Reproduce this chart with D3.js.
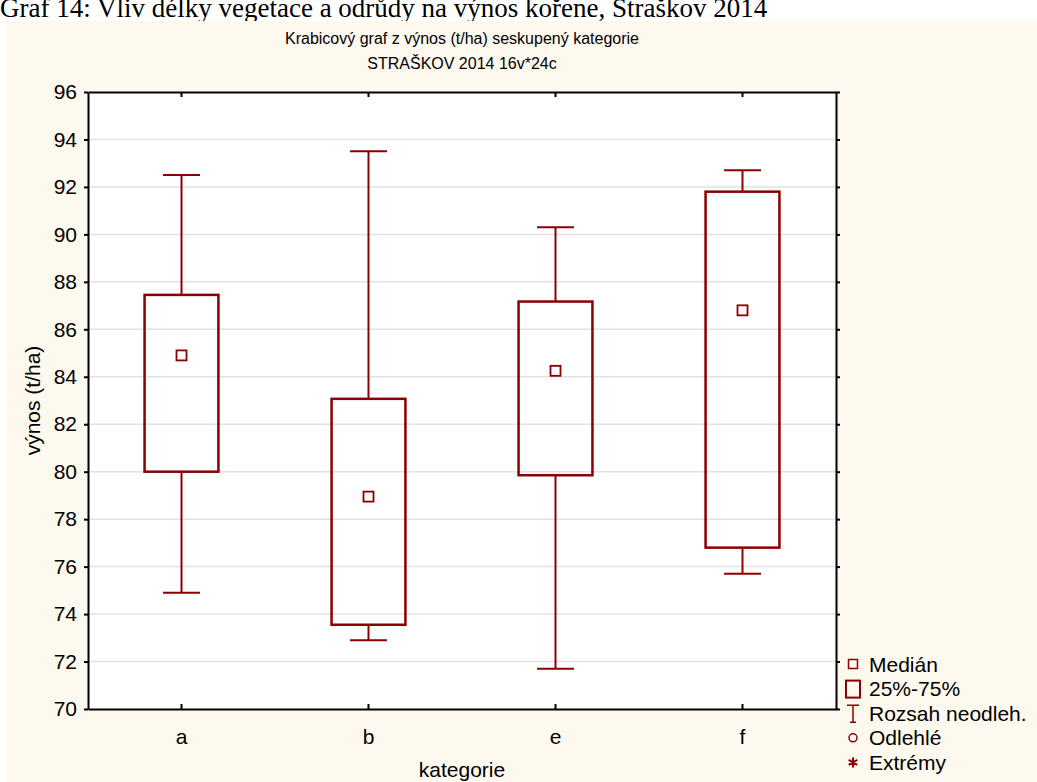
<!DOCTYPE html>
<html><head><meta charset="utf-8">
<script src="https://cdn.jsdelivr.net/npm/d3@7"></script>
<style>
html,body{margin:0;padding:0;background:#fff;}
svg{display:block;}
text{font-family:"Liberation Sans",Arial,sans-serif;fill:#000;}
</style></head>
<body>
<svg id="chart" width="1037" height="782"></svg>
<script>
const categories = ["a","b","e","f"];
const whiskerLow  = [74.9, 72.9, 71.7, 75.7];
const q1          = [80.0, 73.55, 79.85, 76.8];
const median      = [84.9, 78.95, 84.25, 86.8];
const q3          = [87.45, 83.07, 87.17, 91.8];
const whiskerHigh = [92.5, 93.5, 90.3, 92.7];
const yTicks = [70,72,74,76,78,80,82,84,86,88,90,92,94,96];
const legendLabels = ["Medián","25%-75%","Rozsah neodleh.","Odlehlé","Extrémy"];
const caption = "Graf 14: Vliv délky vegetace a odrůdy na výnos kořene, Straškov 2014";
const titleLines = ["Krabicový graf z výnos (t/ha) seskupený kategorie","STRAŠKOV 2014 16v*24c"];

const svg = d3.select("#chart");
const red = "#8b0000";
const L=88, R=836, T=92, B=709;
const FS = "21px";

// caption (cut at top)
svg.append("text").attr("x",0).attr("y",17)
  .style("font-family","'Liberation Serif','Times New Roman',serif")
  .style("font-size","27px").text(caption);

// panel
svg.append("rect").attr("x",6).attr("y",21).attr("width",1031).attr("height",761).attr("fill","#fdf9ef");

const x = d3.scaleBand().domain(categories).range([L,R]);
const y = d3.scaleLinear().domain([70,96]).range([B,T]);

svg.append("rect").attr("x",L).attr("y",T).attr("width",R-L).attr("height",B-T).attr("fill","#fff");

// grid
svg.append("g").selectAll("line").data(yTicks.filter(d=>d>70&&d<96)).join("line")
  .attr("x1",L).attr("x2",R).attr("y1",d=>y(d)).attr("y2",d=>y(d))
  .attr("stroke","#e2e2e2").attr("stroke-width",1.5);

// titles
titleLines.forEach((t,i)=>{
  svg.append("text").attr("x",(L+R)/2).attr("y",44+i*25).attr("text-anchor","middle")
    .style("font-size","16px").text(t);
});

// axes
const fmtAxis = g=>{ g.select(".domain").attr("stroke","#000").attr("stroke-width",2);
  g.selectAll(".tick line").attr("stroke","#000").attr("stroke-width",2);
  g.selectAll(".tick text").style("font-size",FS).attr("fill","#000"); };
svg.append("g").attr("transform",`translate(${L},0)`)
  .call(d3.axisLeft(y).tickValues(yTicks).tickSize(4).tickPadding(7).tickSizeOuter(0)).call(fmtAxis);
svg.append("g").attr("transform",`translate(${R},0)`)
  .call(d3.axisRight(y).tickValues(yTicks).tickSize(4).tickFormat("").tickSizeOuter(0)).call(fmtAxis);
svg.append("g").attr("transform",`translate(0,${B})`)
  .call(d3.axisBottom(x).tickSize(-5).tickPadding(20).tickSizeOuter(0)).call(fmtAxis);
svg.append("g").attr("transform",`translate(0,${T})`)
  .call(d3.axisTop(x).tickSize(-5).tickFormat("").tickSizeOuter(0)).call(fmtAxis);

// axis labels
svg.append("text").attr("x",(L+R)/2).attr("y",777).attr("text-anchor","middle").style("font-size",FS).text("kategorie");
svg.append("text").attr("transform",`translate(40,${(T+B)/2}) rotate(-90)`).attr("text-anchor","middle").style("font-size",FS).text("výnos (t/ha)");

// boxes
const bw = x.bandwidth()*0.395, cw = bw/2;
const g = svg.append("g");
categories.forEach((c,i)=>{
  const cx = x(c)+x.bandwidth()/2;
  g.append("line").attr("x1",cx).attr("x2",cx).attr("y1",y(whiskerHigh[i])).attr("y2",y(q3[i])).attr("stroke",red).attr("stroke-width",2);
  g.append("line").attr("x1",cx).attr("x2",cx).attr("y1",y(q1[i])).attr("y2",y(whiskerLow[i])).attr("stroke",red).attr("stroke-width",2);
  g.append("line").attr("x1",cx-cw/2).attr("x2",cx+cw/2).attr("y1",y(whiskerHigh[i])).attr("y2",y(whiskerHigh[i])).attr("stroke",red).attr("stroke-width",2);
  g.append("line").attr("x1",cx-cw/2).attr("x2",cx+cw/2).attr("y1",y(whiskerLow[i])).attr("y2",y(whiskerLow[i])).attr("stroke",red).attr("stroke-width",2);
  g.append("rect").attr("x",cx-bw/2).attr("y",y(q3[i])).attr("width",bw).attr("height",y(q1[i])-y(q3[i]))
    .attr("fill","none").attr("stroke",red).attr("stroke-width",2.5);
  g.append("rect").attr("x",cx-5).attr("y",y(median[i])-5).attr("width",10).attr("height",10)
    .attr("fill","#fff").attr("stroke",red).attr("stroke-width",1.8);
});

// legend
const lx = 853, ly0 = 664, ldy = 24.6, tx = 869;
const leg = svg.append("g");
legendLabels.forEach((t,i)=>{
  leg.append("text").attr("x",tx).attr("y",ly0+i*ldy+7.5).style("font-size",FS).text(t);
});
leg.append("rect").attr("x",lx-4.5).attr("y",ly0-4.5).attr("width",9).attr("height",9).attr("fill","none").attr("stroke",red).attr("stroke-width",1.5);
leg.append("rect").attr("x",lx-7).attr("y",ly0+ldy-8).attr("width",14).attr("height",17).attr("fill","none").attr("stroke",red).attr("stroke-width",2);
const wy = ly0+2*ldy;
leg.append("path").attr("d",`M${lx-6},${wy-8}H${lx+6}M${lx},${wy-8}V${wy+9}M${lx-3},${wy+9}H${lx+3}`).attr("stroke",red).attr("stroke-width",1.5).attr("fill","none");
leg.append("circle").attr("cx",lx).attr("cy",ly0+3*ldy).attr("r",4).attr("fill","none").attr("stroke",red).attr("stroke-width",1.5);
const ay = ly0+4*ldy;
leg.append("path").attr("d",d3.symbol(d3.symbolAsterisk,70)()).attr("transform",`translate(${lx},${ay})`).attr("stroke",red).attr("stroke-width",2).attr("fill","none");
</script>
</body></html>
